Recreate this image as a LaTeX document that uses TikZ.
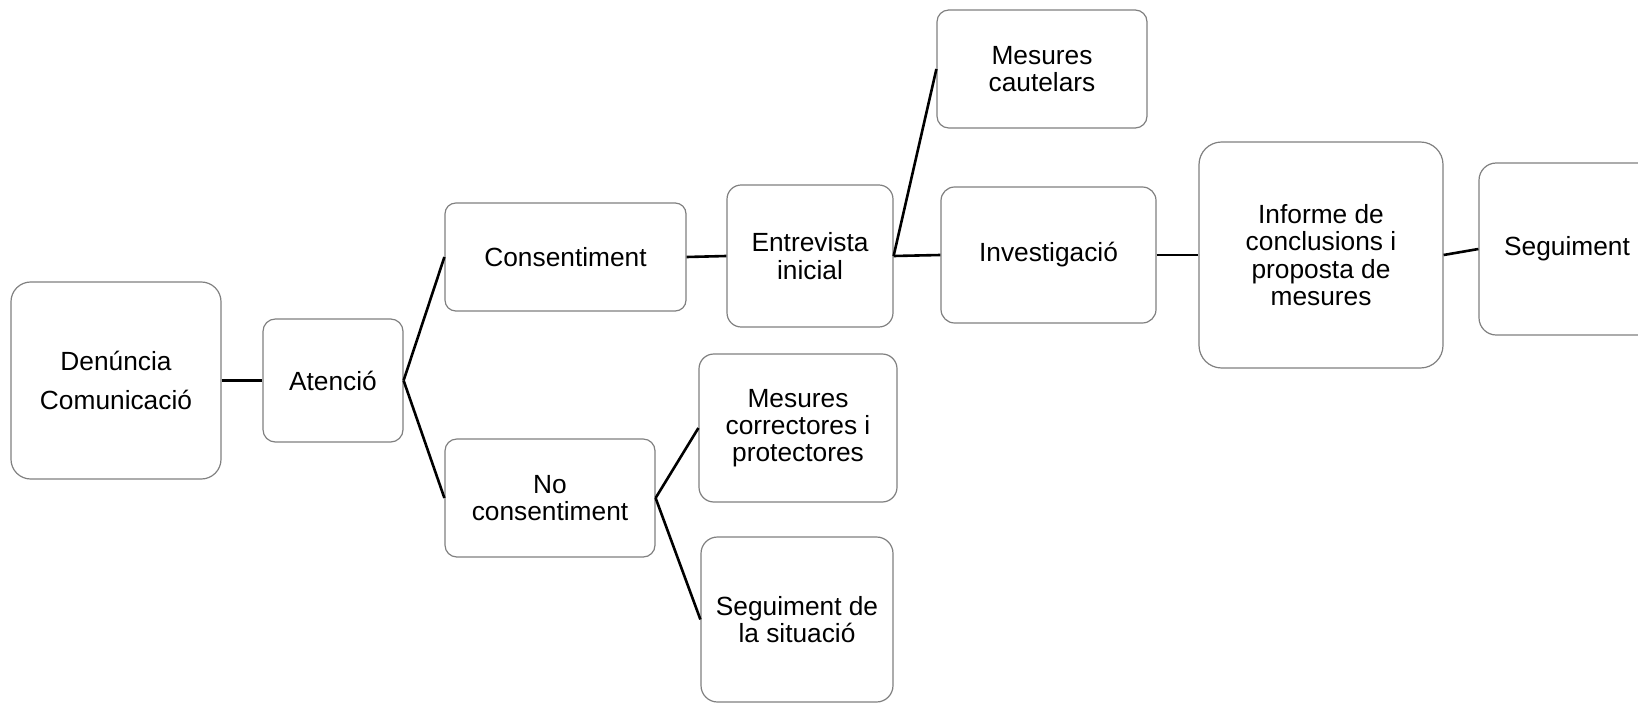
\documentclass[tikz,border=0pt]{standalone}
\usepackage{fontspec}
\setmainfont{Liberation Sans}
\begin{document}
\begin{tikzpicture}[x=1bp,y=-1bp,
  stage/.style={draw=black!50, line width=1.2bp, fill=white, align=center,
    inner sep=0pt, font=\fontsize{26.3bp}{27.3bp}\selectfont},
  link/.style={draw=black, line width=2.6bp}]
\useasboundingbox (0,0) rectangle (1638,704);
\clip (0,0) rectangle (1638,704);

% process stages
\node[stage, minimum width=210bp, minimum height=197bp, rounded corners=19.7bp] (den) at (116,380.5) {Denúncia\\[11bp]Comunicació};
\node[stage, minimum width=140bp, minimum height=123bp, rounded corners=12.3bp] (ate) at (333,380.5) {Atenció};
\node[stage, minimum width=241bp, minimum height=108bp, rounded corners=10.8bp] (con) at (565.5,257) {Consentiment};
\node[stage, minimum width=210bp, minimum height=118bp, rounded corners=11.8bp] (noc) at (550,498) {No\\consentiment};
\node[stage, minimum width=166bp, minimum height=142bp, rounded corners=14.2bp] (ent) at (810,256) {Entrevista\\inicial};
\node[stage, minimum width=210bp, minimum height=118bp, rounded corners=11.8bp] (cau) at (1042,69) {Mesures\\cautelars};
\node[stage, minimum width=215bp, minimum height=136bp, rounded corners=13.6bp] (inv) at (1048.5,255) {Investigació};
\node[stage, minimum width=244bp, minimum height=226bp, rounded corners=22.6bp] (inf) at (1321,255) {Informe de\\conclusions i\\proposta de\\mesures};
\node[stage, minimum width=176bp, minimum height=172bp, rounded corners=17.2bp] (seg) at (1567,249) {Seguiment};
\node[stage, minimum width=198bp, minimum height=148bp, rounded corners=14.8bp] (cor) at (798,428) {Mesures\\correctores i\\protectores};
\node[stage, minimum width=192bp, minimum height=165bp, rounded corners=16.5bp] (sit) at (797,619.5) {Seguiment de\\la situació};

% connectors
\draw[link] (den.east) -- (ate.west);
\draw[link] (ate.east) -- (con.west);
\draw[link] (ate.east) -- (noc.west);
\draw[link] (con.east) -- (ent.west);
\draw[link] (ent.east) -- (cau.west);
\draw[link] (ent.east) -- (inv.west);
\draw[link] (inv.east) -- (inf.west);
\draw[link] (inf.east) -- (seg.west);
\draw[link] (noc.east) -- (cor.west);
\draw[link] (noc.east) -- (sit.west);
\end{tikzpicture}
\end{document}
